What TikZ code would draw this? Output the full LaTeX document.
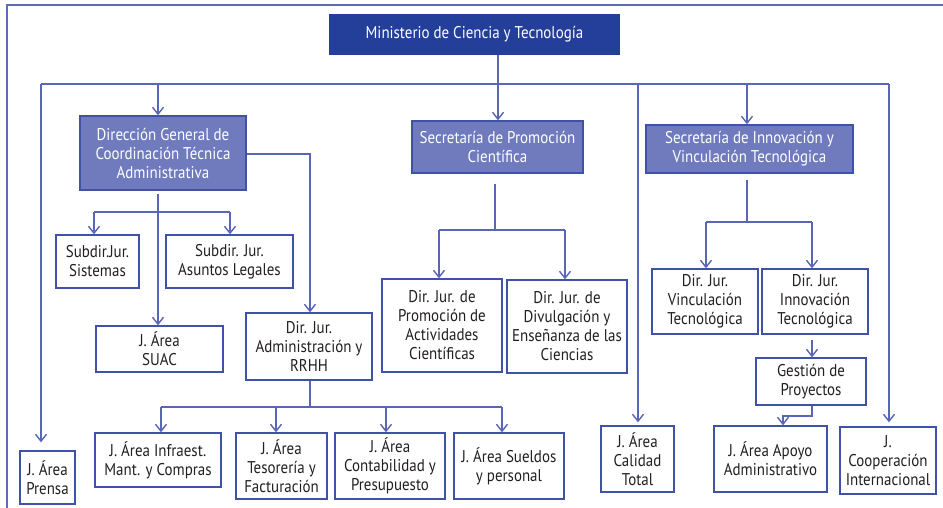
\documentclass[tikz,border=0pt]{standalone}
\usepackage{fontspec}
\setmainfont{PT Sans}[FakeStretch=0.88]
\usetikzlibrary{arrows.meta}
\definecolor{mdark}{HTML}{233F99}
\definecolor{mmid}{HTML}{6F7BBD}
\definecolor{lc}{HTML}{5866B4}
\definecolor{bc}{HTML}{3F52A6}
\definecolor{tc}{HTML}{231F20}
\definecolor{fc}{HTML}{5E6CB8}
\begin{document}
\begin{tikzpicture}[x=1pt,y=-1pt,
  font=\fontsize{17}{19}\selectfont,
  box/.style={draw=bc, line width=1.3pt, fill=white, text=tc, align=center, inner sep=0pt},
  topbox/.style={box, fill=mdark, draw=mdark, text=white},
  secbox/.style={box, fill=mmid, draw=bc, text=white},
  conn/.style={draw=lc, line width=1.4pt},
  arr/.style={conn, -{Straight Barb[length=7pt,width=11pt]}}]
\useasboundingbox (0,0) rectangle (943,508);
% frame
\draw[draw=fc, line width=1.4pt] (7,508) -- (7,5) -- (943,5);
% nodes
\node[topbox, minimum width=289pt, minimum height=39pt] (min) at (474.5,34.5) {Ministerio de Ciencia y Tecnología};
\node[secbox, minimum width=166pt, minimum height=74pt] (dg) at (163,153) {Dirección General de\\Coordinación Técnica\\Administrativa};
\node[secbox, minimum width=171pt, minimum height=52pt] (sp) at (497.5,147) {Secretaría de Promoción\\Científica};
\node[secbox, minimum width=207pt, minimum height=48pt] (si) at (749.5,149) {Secretaría de Innovación y\\Vinculación Tecnológica};
\node[box, minimum width=55pt, minimum height=53pt] (pr) at (47.5,477.5) {J. Área\\Prensa};
\node[box, minimum width=83pt, minimum height=53pt] (sis) at (97.5,261.5) {Subdir.Jur.\\Sistemas};
\node[box, minimum width=127pt, minimum height=53pt] (al) at (229.5,261.5) {Subdir. Jur.\\Asuntos Legales};
\node[box, minimum width=127pt, minimum height=46pt] (suac) at (159.5,349) {J. Área\\SUAC};
\node[box, minimum width=126pt, minimum height=67pt] (adm) at (309,346.5) {Dir. Jur.\\Administración y\\RRHH};
\node[box, minimum width=126pt, minimum height=54pt] (inf) at (158,460) {J. Área Infraest.\\Mant. y Compras};
\node[box, minimum width=91pt, minimum height=66pt] (tes) at (281.5,466) {J. Área\\Tesorería y\\Facturación};
\node[box, minimum width=110pt, minimum height=66pt] (con) at (390,466) {J. Área\\Contabilidad y\\Presupuesto};
\node[box, minimum width=110pt, minimum height=66pt] (sue) at (509,466) {J. Área Sueldos\\y personal};
\node[box, minimum width=120pt, minimum height=93pt] (pa) at (442,325.5) {Dir. Jur. de\\Promoción de\\Actividades\\Científicas};
\node[box, minimum width=120pt, minimum height=93pt] (div) at (567,326.5) {Dir. Jur. de\\Divulgación y\\Enseñanza de las\\Ciencias};
\node[box, minimum width=73pt, minimum height=66pt] (cal) at (637.5,459) {J. Área\\Calidad\\Total};
\node[box, minimum width=106pt, minimum height=65pt] (vin) at (705,301.5) {Dir. Jur.\\Vinculación\\Tecnológica};
\node[box, minimum width=106pt, minimum height=65pt] (inn) at (815,301.5) {Dir. Jur.\\Innovación\\Tecnológica};
\node[box, minimum width=110pt, minimum height=47pt] (ges) at (811,381.5) {Gestión de\\Proyectos};
\node[box, minimum width=113pt, minimum height=66pt] (apo) at (770.5,459) {J. Área Apoyo\\Administrativo};
\node[box, minimum width=96pt, minimum height=67pt] (coop) at (888,460.5) {J.\\Cooperación\\Internacional};
% main bus
\coordinate (bL) at (41,84);
\coordinate (bR) at (889,84);
\coordinate (bT) at (498,84);
\draw[conn] (min.south -| bT) -- (bT);
\draw[conn] (bL) -- (bR);
\draw[arr, shorten >=8pt] (bL) -- (bL |- pr.north);
\coordinate (b1) at (158,84);
\draw[arr] (b1) -- (b1 |- dg.north);
\draw[arr] (bT) -- (bT |- sp.north);
\coordinate (b2) at (747,84);
\draw[arr] (b2) -- (b2 |- si.north);
\coordinate (b3) at (638,84);
\draw[arr, shorten >=3pt] (b3) -- (b3 |- cal.north);
\draw[arr, shorten >=4pt] (bR) -- (bR |- coop.north);
% DG children
\coordinate (d0) at (158,212);
\coordinate (d1) at (94,212);
\coordinate (d2) at (230,212);
\draw[conn] ([yshift=-3pt]dg.south -| d0) -- (d0);
\draw[conn] (d1) -- (d2);
\draw[arr] (d1) -- (d1 |- sis.north);
\draw[arr] (d2) -- (d2 |- al.north);
\draw[arr] (d0) -- (d0 |- suac.north);
\coordinate (d3) at (310,154);
\draw[arr] (dg.east |- d3) -- (d3) -- (d3 |- adm.north);
% Admin children
\coordinate (a0) at (310,407);
\coordinate (a1) at (161,407);
\coordinate (a2) at (276,407);
\coordinate (a3) at (386,407);
\coordinate (a4) at (502,407);
\draw[conn] (adm.south -| a0) -- (a0);
\draw[conn] (a1) -- (a4);
\draw[arr] (a1) -- (a1 |- inf.north);
\draw[arr] (a2) -- (a2 |- tes.north);
\draw[arr] (a3) -- (a3 |- con.north);
\draw[arr] (a4) -- (a4 |- sue.north);
% Sec Promocion children
\coordinate (p0) at (495,230);
\coordinate (p1) at (439,230);
\coordinate (p2) at (565,230);
\draw[conn] ([yshift=-10pt]sp.south -| p0) -- (p0);
\draw[conn] (p1) -- (p2);
\draw[arr] (p1) -- (p1 |- pa.north);
\draw[arr] (p2) -- (p2 |- div.north);
% Sec Innovacion children
\coordinate (s0) at (747,222);
\coordinate (s1) at (706,222);
\coordinate (s2) at (812,222);
\draw[conn] ([yshift=-6pt]si.south -| s0) -- (s0);
\draw[conn] (s1) -- (s2);
\draw[arr] (s1) -- (s1 |- vin.north);
\draw[arr] (s2) -- (s2 |- inn.north);
\draw[arr] ([yshift=-5pt]inn.south -| s2) -- (s2 |- ges.north);
\coordinate (g1) at (812,416);
\coordinate (g2) at (783,416);
\draw[arr] (ges.south -| g1) -- (g1) -- (g2) -- (g2 |- apo.north);
\end{tikzpicture}
\end{document}
